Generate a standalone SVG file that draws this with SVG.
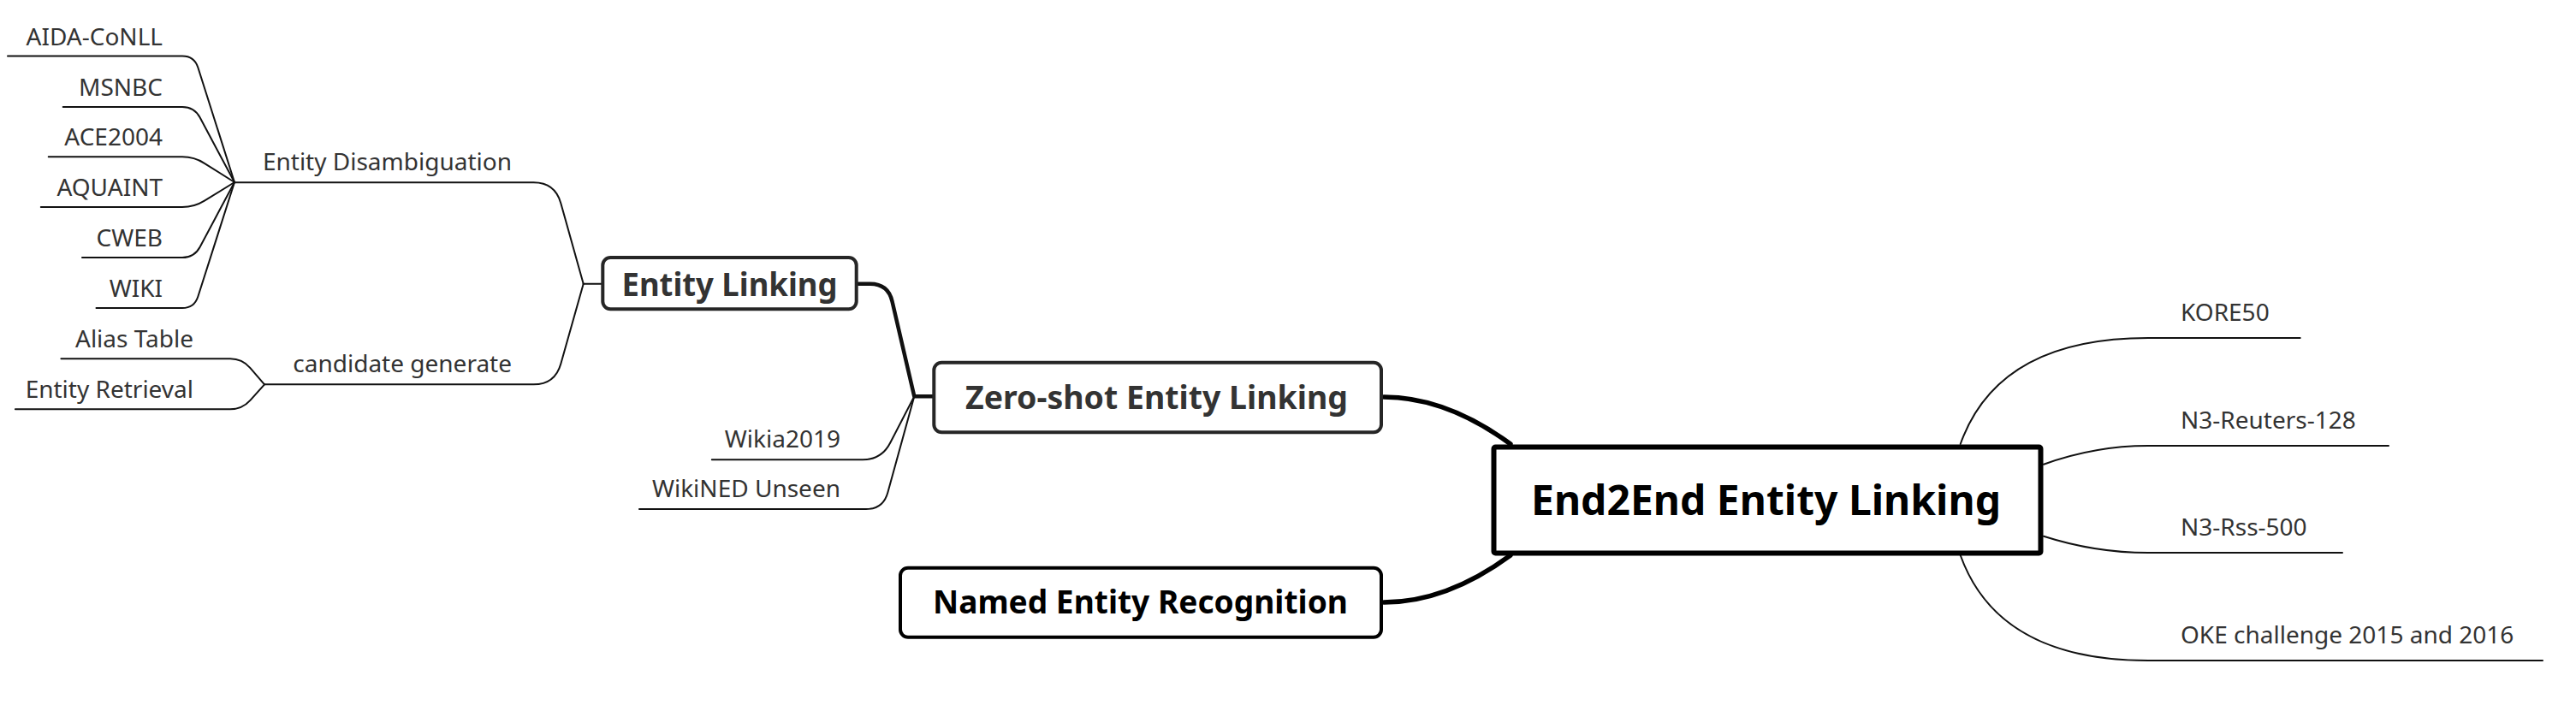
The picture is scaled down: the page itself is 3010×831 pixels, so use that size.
<svg xmlns="http://www.w3.org/2000/svg" width="3010" height="831" viewBox="0 0 3010 831">
  <style>
    .leaf { font-family: "Noto Sans", "Open Sans", sans-serif; font-size: 28px; fill: #333; }
    .title { font-family: "Noto Sans", "Open Sans", sans-serif; font-weight: bold; text-anchor: middle; }
    .thin { fill: none; stroke: #111; stroke-width: 2; stroke-linejoin: round; stroke-linecap: round; }
    .mid { fill: none; stroke: #111; stroke-width: 4.5; stroke-linejoin: round; stroke-linecap: round; }
    .thick { fill: none; stroke: #000; stroke-width: 5.5; stroke-linecap: round; }
    .box2 { fill: #fff; stroke: #262626; stroke-width: 4; }
    .box1 { fill: #fff; stroke: #000; stroke-width: 4; }
    .root { fill: #fff; stroke: #000; stroke-width: 6; }
  </style>
  <rect x="0" y="0" width="3010" height="831" fill="#fff"/>

  <g id="connectors">
    <!-- Entity Disambiguation leaves -->
    <path class="thin" d="M 9,65.5 L 213,65.5 Q 227,65.5 231.3,78.8 L 274,213"/>
    <path class="thin" d="M 73.7,125 L 213,125 Q 227,125 233.6,137.3 L 274,213"/>
    <path class="thin" d="M 56.7,183.3 L 213,183.3 Q 227,183.3 238.8,190.8 L 274,213"/>
    <path class="thin" d="M 47.8,242 L 213,242 Q 227,242 238.9,234.6 L 274,213"/>
    <path class="thin" d="M 96,301 L 213,301 Q 227,301 233.6,288.7 L 274,213"/>
    <path class="thin" d="M 112.5,360 L 213,360 Q 227,360 231.3,346.7 L 274,213"/>
    <!-- candidate generate leaves -->
    <path class="thin" d="M 71.4,419.3 L 269,419.3 Q 283,419.3 292.2,429.9 L 309,449.3"/>
    <path class="thin" d="M 17.9,478.3 L 269,478.3 Q 283,478.3 292.4,467.9 L 309,449.3"/>
    <!-- sub-branches of Entity Linking -->
    <path class="thin" d="M 274,213.3 L 623.5,213.3 Q 648.5,213.3 655.3,237.4 L 681.7,331.7"/>
    <path class="thin" d="M 309,449.3 L 623.5,449.3 Q 648.5,449.3 655.3,425.2 L 681.7,331.7"/>
    <path class="thin" d="M 681.7,331.7 L 704,331.7"/>
    <!-- Entity Linking -> Zero-shot -->
    <path class="mid" d="M 1003,331.7 L 1016.8,331.7 Q 1037.8,331.7 1042.5,352.2 L 1068.3,463.3 L 1091,463.3"/>
    <!-- Zero-shot leaves -->
    <path class="thin" d="M 831.8,537.3 L 1008,537.3 Q 1030,537.3 1040.1,517.8 L 1068.3,463.3"/>
    <path class="thin" d="M 747,595 L 1012,595 Q 1032,595 1037.3,575.7 L 1068.3,463.3"/>
    <!-- main branches to root -->
    <path class="thick" d="M 1617,464 Q 1690,464 1765,519"/>
    <path class="thick" d="M 1617,704 Q 1690,704 1765,649"/>
    <!-- right leaves -->
    <path class="thin" d="M 2290.7,519 Q 2335,395 2510,395 L 2687.7,395"/>
    <path class="thin" d="M 2388,542.7 Q 2448,521 2510,521 L 2791,521"/>
    <path class="thin" d="M 2388,626.7 Q 2448,646 2510,646 L 2737,646"/>
    <path class="thin" d="M 2290.7,649 Q 2335,772 2510,772 L 2971,772"/>
  </g>

  <g id="leaf-aida"><text class="leaf" x="190" y="52.5" text-anchor="end">AIDA-CoNLL</text></g>
  <g id="leaf-msnbc"><text class="leaf" x="190" y="112" text-anchor="end">MSNBC</text></g>
  <g id="leaf-ace2004"><text class="leaf" x="190" y="170.3" text-anchor="end">ACE2004</text></g>
  <g id="leaf-aquaint"><text class="leaf" x="190" y="229" text-anchor="end">AQUAINT</text></g>
  <g id="leaf-cweb"><text class="leaf" x="190" y="288" text-anchor="end">CWEB</text></g>
  <g id="leaf-wiki"><text class="leaf" x="190" y="347" text-anchor="end">WIKI</text></g>
  <g id="leaf-alias"><text class="leaf" x="226" y="406.3" text-anchor="end">Alias Table</text></g>
  <g id="leaf-retrieval"><text class="leaf" x="226" y="465.3" text-anchor="end">Entity Retrieval</text></g>
  <g id="node-disambiguation"><text class="leaf" x="598" y="199.3" text-anchor="end">Entity Disambiguation</text></g>
  <g id="node-candidate"><text class="leaf" x="598" y="435.3" text-anchor="end">candidate generate</text></g>
  <g id="leaf-wikia"><text class="leaf" x="982" y="523.3" text-anchor="end">Wikia2019</text></g>
  <g id="leaf-wikined"><text class="leaf" x="982" y="581" text-anchor="end">WikiNED Unseen</text></g>

  <g id="node-entity-linking">
    <rect class="box2" x="704.3" y="301" width="296.4" height="60.3" rx="9"/>
    <text class="title" x="852.5" y="345.7" font-size="38" fill="#333" textLength="252" lengthAdjust="spacingAndGlyphs">Entity Linking</text>
  </g>
  <g id="node-zero-shot">
    <rect class="box2" x="1091.3" y="423.7" width="522.7" height="81.6" rx="9"/>
    <text class="title" x="1351.5" y="478" font-size="37" fill="#333" textLength="447" lengthAdjust="spacingAndGlyphs">Zero-shot Entity Linking</text>
  </g>
  <g id="node-ner">
    <rect class="box1" x="1052" y="663.7" width="562" height="81" rx="9"/>
    <text class="title" x="1332.5" y="716.7" font-size="37" fill="#000" textLength="485" lengthAdjust="spacingAndGlyphs">Named Entity Recognition</text>
  </g>
  <g id="node-root">
    <rect class="root" x="1745.5" y="522.5" width="639" height="124" rx="2"/>
    <text class="title" x="2063.5" y="602" font-size="48" fill="#000" textLength="549" lengthAdjust="spacingAndGlyphs">End2End Entity Linking</text>
  </g>

  <g id="leaf-kore50"><text class="leaf" x="2548" y="375">KORE50</text></g>
  <g id="leaf-reuters"><text class="leaf" x="2548" y="501">N3-Reuters-128</text></g>
  <g id="leaf-rss"><text class="leaf" x="2548" y="626">N3-Rss-500</text></g>
  <g id="leaf-oke"><text class="leaf" x="2548" y="752">OKE challenge 2015 and 2016</text></g>
</svg>
